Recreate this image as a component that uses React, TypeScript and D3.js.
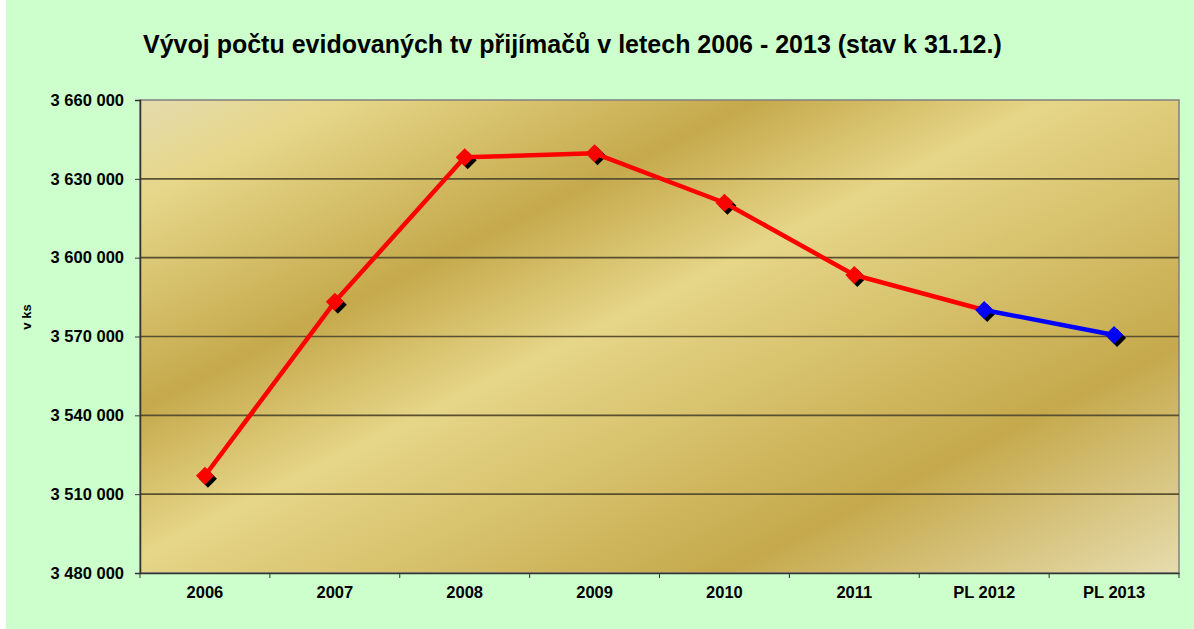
/**
 * Vývoj počtu evidovaných tv přijímačů — čárový graf se zlatým pozadím
 */
import { useEffect, useRef } from 'react';
import * as d3 from 'd3';

const WIDTH = 1194;
const HEIGHT = 629;

const TITLE = 'Vývoj počtu evidovaných tv přijímačů v letech 2006 - 2013 (stav k 31.12.)';
const Y_LABEL = 'v ks';

// skutečnost (červená) a plán (modrá)
const actualYears = ['2006', '2007', '2008', '2009', '2010', '2011'];
const actualValues = [3517000, 3583200, 3638200, 3639700, 3620900, 3593400];
const planYears = ['PL 2012', 'PL 2013'];
const planValues = [3580100, 3570600];

const yTicks = [3480000, 3510000, 3540000, 3570000, 3600000, 3630000, 3660000];

export default function App() {
  const svgRef = useRef<SVGSVGElement>(null);

  useEffect(() => {
    if (!svgRef.current) return;
    const svg = d3.select(svgRef.current);
    svg.selectAll('*').remove();

    const plot = { left: 140, right: 1179, top: 100, bottom: 573 };
    const font = '"Liberation Sans", Arial, sans-serif';

    const categories = [...actualYears, ...planYears];
    const x = d3.scaleBand().domain(categories).range([plot.left, plot.right]).padding(0);
    const y = d3.scaleLinear().domain([yTicks[0], yTicks[yTicks.length - 1]]).range([plot.bottom, plot.top]);
    const cx = (c: string) => (x(c) ?? 0) + x.bandwidth() / 2;

    const fmt = d3.formatLocale({ decimal: ',', thousands: ' ', grouping: [3], currency: ['', ' Kč'] }).format(',d');

    // pozadí
    svg.append('rect')
      .attr('x', 6).attr('y', 0)
      .attr('width', WIDTH - 6).attr('height', HEIGHT)
      .attr('fill', '#CCFFCC');

    // zlatý gradient plochy grafu
    const defs = svg.append('defs');
    const grad = defs.append('linearGradient')
      .attr('id', 'gold')
      .attr('gradientUnits', 'userSpaceOnUse')
      .attr('x1', 140).attr('y1', 100)
      .attr('x2', 537).attr('y2', 894);
    [
      [0, '#E4DBAE'],
      [0.1, '#E6D78A'],
      [0.31, '#C5A94C'],
      [0.46, '#E6D688'],
      [0.77, '#C5A94C'],
      [1, '#E6DCAE'],
    ].forEach(([o, c]) => grad.append('stop').attr('offset', o as number).attr('stop-color', c as string));

    svg.append('rect')
      .attr('x', plot.left).attr('y', plot.top)
      .attr('width', plot.right - plot.left).attr('height', plot.bottom - plot.top)
      .attr('fill', 'url(#gold)')
      .attr('stroke', '#808080')
      .attr('stroke-width', 1.5);

    // mřížka
    svg.append('g')
      .selectAll('line')
      .data(yTicks.slice(1, -1))
      .enter()
      .append('line')
      .attr('x1', plot.left).attr('x2', plot.right)
      .attr('y1', (d) => y(d)).attr('y2', (d) => y(d))
      .attr('stroke', '#5A5030')
      .attr('stroke-width', 1.6);

    // osa Y
    const yAxis = svg.append('g')
      .attr('transform', `translate(${plot.left},0)`)
      .call(d3.axisLeft(y).tickValues(yTicks).tickSize(5).tickPadding(11).tickFormat((d) => fmt(d as number)));

    // osa X
    const xAxis = svg.append('g')
      .attr('transform', `translate(0,${plot.bottom})`)
      .call(d3.axisBottom(x).tickSize(0).tickPadding(13));

    // čárky mezi kategoriemi
    svg.append('g')
      .selectAll('line')
      .data(d3.range(categories.length + 1))
      .enter()
      .append('line')
      .attr('x1', (i) => plot.left + i * x.bandwidth())
      .attr('x2', (i) => plot.left + i * x.bandwidth())
      .attr('y1', plot.bottom).attr('y2', plot.bottom + 5)
      .attr('stroke', '#333');

    [yAxis, xAxis].forEach((ax) => {
      ax.attr('font-size', null).attr('font-family', null);
      ax.selectAll('.domain').attr('stroke', '#333').attr('stroke-width', 1.5);
      ax.selectAll('.tick line').attr('stroke', '#333');
      ax.selectAll('.tick text')
        .attr('fill', '#000')
        .style('font-family', font)
        .style('font-weight', 'bold')
        .style('font-size', '16.5px');
    });

    // data
    type Pt = { cat: string; val: number };
    const actual: Pt[] = actualYears.map((c, i) => ({ cat: c, val: actualValues[i] }));
    const plan: Pt[] = planYears.map((c, i) => ({ cat: c, val: planValues[i] }));
    const line = d3.line<Pt>().x((d) => cx(d.cat)).y((d) => y(d.val));
    const diamond = (d: Pt, dx = 0) => {
      const px = cx(d.cat) + dx, py = y(d.val) + dx, r = 9;
      return `M${px},${py - r}L${px + r},${py}L${px},${py + r}L${px - r},${py}Z`;
    };

    const all = [...actual, ...plan];
    // stíny značek
    svg.append('g')
      .selectAll('path')
      .data(all)
      .enter()
      .append('path')
      .attr('d', (d) => diamond(d, 3))
      .attr('fill', '#000');

    svg.append('path')
      .datum([...actual, plan[0]])
      .attr('d', line)
      .attr('fill', 'none')
      .attr('stroke', '#FF0000')
      .attr('stroke-width', 4.5)
      .attr('stroke-linejoin', 'round');

    svg.append('path')
      .datum(plan)
      .attr('d', line)
      .attr('fill', 'none')
      .attr('stroke', '#0000FF')
      .attr('stroke-width', 4.5);

    svg.append('g')
      .selectAll('path')
      .data(all)
      .enter()
      .append('path')
      .attr('d', (d) => diamond(d))
      .attr('fill', (d) => (planYears.includes(d.cat) ? '#0000FF' : '#FF0000'));

    // titulek
    svg.append('text')
      .attr('x', 143)
      .attr('y', 53)
      .style('font-family', font)
      .style('font-weight', 'bold')
      .style('font-size', '25px')
      .attr('fill', '#000')
      .text(TITLE);

    // popis osy Y
    svg.append('text')
      .attr('transform', 'translate(31,317) rotate(-90)')
      .attr('text-anchor', 'middle')
      .style('font-family', font)
      .style('font-weight', 'bold')
      .style('font-size', '13px')
      .attr('fill', '#000')
      .text(Y_LABEL);
  }, []);

  return (
    <>
      <style>{'body{margin:0}'}</style>
      <svg ref={svgRef} width={WIDTH} height={HEIGHT} style={{ display: 'block' }} />
    </>
  );
}
